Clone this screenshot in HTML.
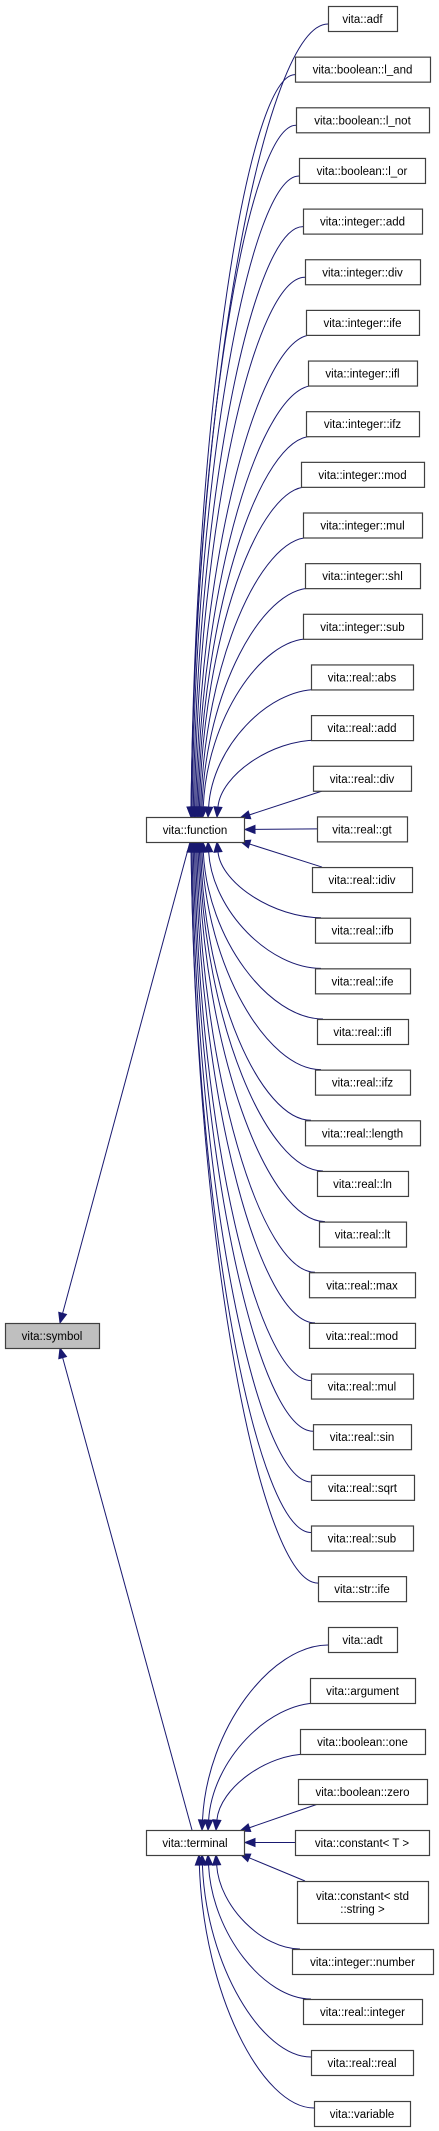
<!DOCTYPE html>
<html><head><meta charset="utf-8">
<style>
body{margin:0;background:#fff;}
svg{display:block;font-family:"Liberation Sans",Arial,sans-serif;}
</style></head>
<body>
<svg id="g" width="439" height="2131" viewBox="0 0 439 2131" xmlns="http://www.w3.org/2000/svg"></svg>
<script>
const fnNames=["vita::adf","vita::boolean::l_and","vita::boolean::l_not","vita::boolean::l_or","vita::integer::add","vita::integer::div","vita::integer::ife","vita::integer::ifl","vita::integer::ifz","vita::integer::mod","vita::integer::mul","vita::integer::shl","vita::integer::sub","vita::real::abs","vita::real::add","vita::real::div","vita::real::gt","vita::real::idiv","vita::real::ifb","vita::real::ife","vita::real::ifl","vita::real::ifz","vita::real::length","vita::real::ln","vita::real::lt","vita::real::max","vita::real::mod","vita::real::mul","vita::real::sin","vita::real::sqrt","vita::real::sub","vita::str::ife"];
const fnX=[[328,397],[295,430],[296,429],[299,425],[303,422],[305,420],[306,419],[308,417],[306,419],[301,424],[303,422],[305,420],[303,422],[311,413],[311,413],[313,411],[317,407],[312,412],[315,410],[315,410],[317,408],[315,410],[305,420],[317,408],[319,406],[309,415],[309,415],[311,413],[313,411],[311,414],[311,413],[318,406]];
const tNames=["vita::adt","vita::argument","vita::boolean::one","vita::boolean::zero","vita::constant< T >","vita::constant< std\n::string >","vita::integer::number","vita::real::integer","vita::real::real","vita::variable"];
const tX=[[328,397],[310,415],[300,425],[298,427],[295,429],[297,428],[292,433],[303,422],[311,413],[314,410]];
const tTop=[1627,1678,1729,1779,1830,1881,1949,1999,2050,2101];
const tH=[25,25,25,25,25,42,25,25,25,25];
const svg=document.getElementById('g');
const NS="http://www.w3.org/2000/svg";
const C="#191970";
function mk(t,a){const e=document.createElementNS(NS,t);for(const k in a)e.setAttribute(k,a[k]);svg.appendChild(e);return e;}
function box(x1,y,x2,h,label,name,fill){
  const r=mk('rect',{x:x1+0.5,y:y+0.5,width:x2-x1,height:h,fill:fill||'#fff',stroke:'#404040','stroke-width':1.2});
  
  
  const lines=label.split('\n');
  lines.forEach((ln,i)=>{
    const t=mk('text',{x:(x1+x2)/2,y:y+h/2+4.5-(lines.length-1)*6.5+i*13,'font-size':11.5,'text-anchor':'middle',fill:'#000'});
    t.textContent=ln;
    
    
  });
}
function arrow(ex,ey,dx,dy,name){
  const L=Math.hypot(dx,dy);const ux=dx/L,uy=dy/L;
  const bx=ex-ux*10,by=ey-uy*10;
  const p=mk('polygon',{points:`${ex},${ey} ${bx-uy*4},${by+ux*4} ${bx+uy*4},${by-ux*4}`,fill:C,stroke:C});
  
  
  return [bx,by];
}
function edge(sx,sy,ex,ey,straight,name){
  let c2x,c2y,c1x,c1y;
  if(straight){
    const b=arrow(ex,ey,ex-sx,ey-sy,name);
    const p=mk('path',{d:`M${sx},${sy}L${b[0]},${b[1]}`,fill:'none',stroke:C,'stroke-width':1});
    return;
  }
  const dy=ey-sy;
  c1x=sx-(sx-ex)*0.45; c1y=sy;
  c2x=ex+ (sx-ex)*0.04; c2y=ey-dy*0.55;
  const b=arrow(ex,ey,ex-c2x,ey-c2y,name);
  const p=mk('path',{d:`M${sx},${sy}C${c1x},${c1y} ${c2x},${c2y} ${b[0]},${b[1]}`,fill:'none',stroke:C,'stroke-width':1});
  
  
}
function rowTop(i){return 6+50.65*i;}
const FC=16, fTop=817, fBot=842;
fnNames.forEach((n,i)=>{
  const y=rowTop(i), x1=fnX[i][0], nm='edge-'+n.replace(/[^a-z]+/gi,'-');
  const k=Math.abs(i-FC);
  if(i===FC){edge(x1,y+12.5,245,829.5,true,nm);}
  else if(k===1){ if(i<FC)edge(x1+10,y+25,240,fTop+1,true,nm); else edge(x1+10,y,240,fBot-1,true,nm);}
  else{
    const ex=k===2?217:(k===3?208:Math.max(191,204-(k-3)*1.2));
    if(i<FC) edge(x1+(k>10?0:6),k>10?y+18:y+25,ex,fTop,false,nm);
    else edge(x1+(k>10?0:6),k>10?y+7:y,ex,fBot,false,nm);
  }
});
const TC=4, tT=1830, tB=1855;
tNames.forEach((n,i)=>{
  const y=tTop[i],x1=tX[i][0],nm='edge-'+n.replace(/[^a-z]+/gi,'-');
  const k=Math.abs(i-TC);
  if(i===TC){edge(x1,y+12.5,245,1842.5,true,nm);}
  else if(k===1){ if(i<TC)edge(x1+20,y+25,240,tT+1,true,nm); else edge(x1+8,y,240,tB-1,true,nm);}
  else{
    const ex=k===2?216:(k===3?208:(k===4?202:199));
    if(i<TC) edge(x1+(k>3?0:8),k>3?y+18:y+25,ex,tT,false,nm);
    else edge(x1+(k>3?0:8),k>3?y+7:y,ex,tB,false,nm);
  }
});
edge(190,842,60,1323,true,'edge-function-symbol');
edge(192,1830,60,1348,true,'edge-terminal-symbol');
fnNames.forEach((n,i)=>box(fnX[i][0],rowTop(i),fnX[i][1],25,n,'node-'+n.replace(/[^a-z]+/gi,'-')));
tNames.forEach((n,i)=>box(tX[i][0],tTop[i],tX[i][1],tH[i],n,'node-'+n.replace(/[^a-z]+/gi,'-')));
box(146,817,244,25,'vita::function','node-vita-function');
box(146,1830,244,25,'vita::terminal','node-vita-terminal');
box(5,1323,99,25,'vita::symbol','node-vita-symbol','#bfbfbf');
</script>
</body></html>
